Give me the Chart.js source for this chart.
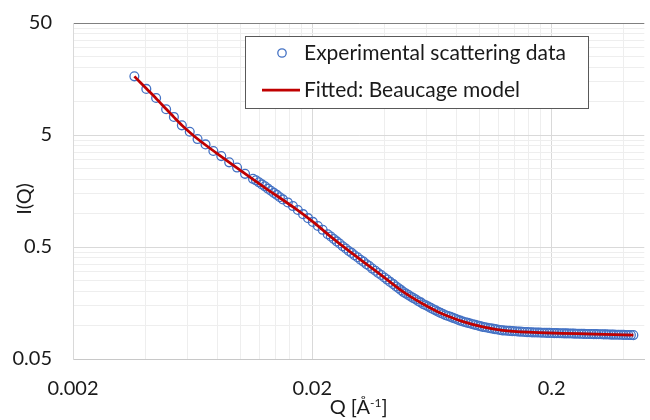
<!DOCTYPE html>
<html>
<head>
<meta charset="utf-8">
<script src="https://cdn.jsdelivr.net/npm/chart.js@4"></script>
<style>
  html, body { margin: 0; padding: 0; background: #fff; }
  #wrap { width: 650px; height: 420px; }
</style>
</head>
<body>
<div id="wrap"><canvas id="saxsChart" width="650" height="420"></canvas></div>
<script>
// DATA
const qExp = [
  0.00361, 0.00405, 0.00445, 0.00490, 0.00528, 0.00570, 0.00615, 0.00663, 0.00716, 0.00772, 0.00833, 0.00899, 0.00970, 0.01047, 0.01130,
  0.01163, 0.01197, 0.01232, 0.01268, 0.01305, 0.01343, 0.01382, 0.01422, 0.01464, 0.01507,
  0.0158, 0.0166, 0.0174, 0.0183, 0.0192, 0.0201, 0.0211, 0.0221, 0.0232,
  0.0239, 0.0246, 0.0253, 0.0260, 0.0268, 0.0276, 0.0284, 0.0292, 0.0300, 0.0309, 0.0318, 0.0327, 0.0337, 0.0346, 0.0356, 0.0367, 0.0377, 0.0388, 0.0400, 0.0411, 0.0423, 0.0436, 0.0448,
  0.0459, 0.0470, 0.0481, 0.0493, 0.0505, 0.0517, 0.0529, 0.0542, 0.0555, 0.0568,
  0.0582, 0.0596, 0.0610, 0.0625, 0.0640, 0.0655, 0.0671, 0.0687, 0.0704,
  0.0721, 0.0738, 0.0756, 0.0774, 0.0793, 0.0812, 0.0831, 0.0851,
  0.0872, 0.0893, 0.0914, 0.0936, 0.0959, 0.0982, 0.1005, 0.1030,
  0.1054, 0.1080, 0.1106, 0.1132, 0.1160, 0.1187, 0.1216, 0.1245,
  0.1275, 0.1306, 0.1337, 0.1370, 0.1403, 0.1436, 0.1471, 0.1506, 0.1543, 0.1580,
  0.1618, 0.1657, 0.1697, 0.1737, 0.1779, 0.1822, 0.1866, 0.1911, 0.1957, 0.2004, 0.2052, 0.2102, 0.2152, 0.2204,
  0.2257, 0.2311, 0.2367, 0.2424, 0.2482, 0.2542, 0.2603, 0.2666, 0.2730, 0.2796, 0.2863, 0.2932, 0.3003,
  0.3075, 0.3149, 0.3225, 0.3302, 0.3382, 0.3463, 0.3547, 0.3632, 0.3719, 0.3809, 0.3901, 0.3995, 0.4091, 0.4189, 0.4290, 0.4393
];
const iExp = [
  16.7, 12.9, 10.7, 8.49, 7.25, 6.10, 5.34, 4.60, 4.12, 3.60, 3.24, 2.85, 2.56, 2.25, 2.03,
  1.97, 1.89, 1.81, 1.74, 1.66, 1.59, 1.52, 1.46, 1.39, 1.33,
  1.25, 1.16, 1.07, 0.982, 0.905, 0.838, 0.770, 0.712, 0.650,
  0.620, 0.590, 0.561, 0.537, 0.508, 0.485, 0.461, 0.443, 0.422, 0.405, 0.385, 0.370, 0.351, 0.338, 0.321, 0.307, 0.293, 0.281, 0.267, 0.256, 0.244, 0.233, 0.222,
  0.214, 0.206, 0.198, 0.192, 0.186, 0.180, 0.175, 0.170, 0.164, 0.160,
  0.154, 0.151, 0.147, 0.143, 0.139, 0.136, 0.132, 0.129, 0.126,
  0.123, 0.121, 0.119, 0.1165, 0.1145, 0.112, 0.110, 0.108,
  0.1066, 0.1051, 0.1037, 0.1023, 0.1009, 0.0995, 0.0982, 0.0968,
  0.0960, 0.0951, 0.0942, 0.0934, 0.0925, 0.0918, 0.0909, 0.0901,
  0.0897, 0.0894, 0.0891, 0.0887, 0.0884, 0.0881, 0.0878, 0.0875, 0.0871, 0.0869,
  0.0866, 0.0865, 0.0863, 0.0862, 0.0861, 0.0859, 0.0858, 0.0856, 0.0855, 0.0854, 0.0852, 0.0851, 0.0849, 0.0848,
  0.0847, 0.0846, 0.0845, 0.0844, 0.0843, 0.0841, 0.0840, 0.0839, 0.0838, 0.0837, 0.0836, 0.0835, 0.0834,
  0.0833, 0.0832, 0.0831, 0.0830, 0.0829, 0.0827, 0.0826, 0.0825, 0.0824, 0.0823, 0.0822, 0.0821, 0.0820, 0.0819, 0.0818, 0.0817
];

const qFit = [0.00361, 0.00405, 0.00445, 0.00490, 0.00528, 0.00570, 0.00658, 0.00788, 0.01029, 0.01270, 0.01690, 0.02039, 0.02380, 0.02800, 0.0329, 0.0398, 0.0482, 0.0583, 0.0705, 0.0853, 0.1032, 0.1249, 0.1600, 0.2213, 0.3030, 0.4393];
const iFit = [16.7, 13.0, 10.6, 8.53, 7.22, 6.12, 4.68, 3.50, 2.32, 1.69, 1.11, 0.820, 0.622, 0.473, 0.365, 0.2694, 0.1975, 0.1541, 0.1253, 0.1079, 0.0967, 0.0900, 0.0867, 0.0848, 0.0834, 0.0817];

// axis ticks: every tick draws a grid line, only these get labels
const xTicks = [0.002, 0.004, 0.006, 0.008, 0.01, 0.012, 0.014, 0.016, 0.018, 0.02, 0.04, 0.06, 0.08, 0.1, 0.12, 0.14, 0.16, 0.18, 0.2, 0.4];
const xLabels = [0.002, 0.02, 0.2];
const yTicks = [0.05, 0.1, 0.15, 0.2, 0.25, 0.3, 0.35, 0.4, 0.45, 0.5, 1, 1.5, 2, 2.5, 3, 3.5, 4, 4.5, 5, 10, 15, 20, 25, 30, 35, 40, 45, 50];
const yLabels = [0.05, 0.5, 5, 50];

const seriesNames = ["Experimental scattering data", "Fitted: Beaucage model"];
const xTitle = "Q [Å";
const xTitleSup = "-1";
const yTitle = "I(Q)";

const FONT = "Lato, 'Open Sans', sans-serif";
const TEXT_COLOR = "#1a1a1a";
const BLUE = "#4472c4";
const RED = "#c00000";

function gridColor(labels, topValue) {
    return (ctx) => {
        if (!ctx.tick) return "#d9d9d9";
        if (topValue !== undefined && ctx.tick.value === topValue) return "#808080";
        return labels.includes(ctx.tick.value) ? "#d9d9d9" : "#eeeeee";
    };
}

// titles + legend box, drawn after everything else
const decorations = {
    id: "decorations",
    afterDraw(chart) {
        const ctx = chart.ctx;
        const area = chart.chartArea;
        ctx.save();
        ctx.fillStyle = TEXT_COLOR;

        // x title with superscript
        ctx.font = `20px ${FONT}`;
        const w1 = ctx.measureText(xTitle).width;
        const w3 = ctx.measureText("]").width;
        ctx.font = `12px ${FONT}`;
        const w2 = ctx.measureText(xTitleSup).width;
        let x = (area.left + area.right) / 2 - (w1 + w2 + w3) / 2;
        const base = 414;
        ctx.textBaseline = "alphabetic";
        ctx.textAlign = "left";
        ctx.font = `20px ${FONT}`;
        ctx.fillText(xTitle, x, base);
        ctx.font = `12px ${FONT}`;
        ctx.fillText(xTitleSup, x + w1, base - 7);
        ctx.font = `20px ${FONT}`;
        ctx.fillText("]", x + w1 + w2, base);

        // y title
        ctx.save();
        ctx.translate(25, 199);
        ctx.rotate(-Math.PI / 2);
        ctx.textAlign = "center";
        ctx.textBaseline = "middle";
        ctx.fillText(yTitle, 0, 0);
        ctx.restore();

        // legend
        ctx.fillStyle = "#fff";
        ctx.fillRect(245.5, 36.5, 343, 72);
        ctx.strokeStyle = "#595959";
        ctx.lineWidth = 1;
        ctx.strokeRect(245.5, 36.5, 343, 72);

        ctx.beginPath();
        ctx.arc(282, 53, 4.2, 0, Math.PI * 2);
        ctx.strokeStyle = BLUE;
        ctx.lineWidth = 1.3;
        ctx.stroke();

        ctx.beginPath();
        ctx.moveTo(262, 90);
        ctx.lineTo(300, 90);
        ctx.strokeStyle = RED;
        ctx.lineWidth = 2.75;
        ctx.stroke();

        ctx.fillStyle = TEXT_COLOR;
        ctx.font = `21px ${FONT}`;
        ctx.textAlign = "left";
        ctx.textBaseline = "alphabetic";
        ctx.fillText(seriesNames[0], 304, 60);
        ctx.fillText(seriesNames[1], 304, 97);
        ctx.restore();
    }
};

const expPoints = qExp.map((q, i) => ({ x: q, y: iExp[i] }));
const fitPoints = qFit.map((q, i) => ({ x: q, y: iFit[i] }));

new Chart(document.getElementById("saxsChart"), {
    type: "scatter",
    data: {
        datasets: [
            {
                label: seriesNames[1],
                data: fitPoints,
                showLine: true,
                borderColor: RED,
                borderWidth: 2.75,
                pointRadius: 0,
                tension: 0.3,
                order: 0
            },
            {
                label: seriesNames[0],
                data: expPoints,
                pointStyle: "circle",
                pointRadius: 4.4,
                pointBorderWidth: 1.3,
                pointBorderColor: BLUE,
                pointBackgroundColor: "rgba(0,0,0,0)",
                order: 1
            }
        ]
    },
    options: {
        responsive: false,
        animation: false,
        devicePixelRatio: 1,
        layout: { padding: { top: 23, right: 0, left: 0, bottom: 0 } },
        plugins: {
            legend: { display: false },
            tooltip: { enabled: false }
        },
        scales: {
            x: {
                type: "logarithmic",
                min: 0.002,
                max: 0.488,
                afterBuildTicks: (s) => { s.ticks = xTicks.map(v => ({ value: v })); },
                afterFit: (s) => { s.height = 61; s.paddingLeft = 0; s.paddingRight = 0; },
                grid: { color: gridColor(xLabels), lineWidth: 1, drawTicks: false },
                border: { color: "#c8c8c8", width: 1 },
                ticks: {
                    autoSkip: false,
                    maxRotation: 0,
                    padding: 18,
                    color: TEXT_COLOR,
                    font: { family: FONT, size: 20 },
                    callback: (v) => xLabels.includes(v) ? String(v) : ""
                }
            },
            y: {
                type: "logarithmic",
                min: 0.05,
                max: 50,
                afterBuildTicks: (s) => { s.ticks = yTicks.map(v => ({ value: v })); },
                afterFit: (s) => { s.width = 73; s.paddingTop = 0; s.paddingBottom = 0; },
                grid: { color: gridColor(yLabels, 50), lineWidth: 1, drawTicks: false },
                border: { color: "#d9d9d9", width: 1 },
                ticks: {
                    autoSkip: false,
                    padding: 21,
                    color: TEXT_COLOR,
                    font: { family: FONT, size: 20 },
                    callback: (v) => yLabels.includes(v) ? String(v) : ""
                }
            }
        }
    },
    plugins: [decorations]
});
</script>
</body>
</html>
